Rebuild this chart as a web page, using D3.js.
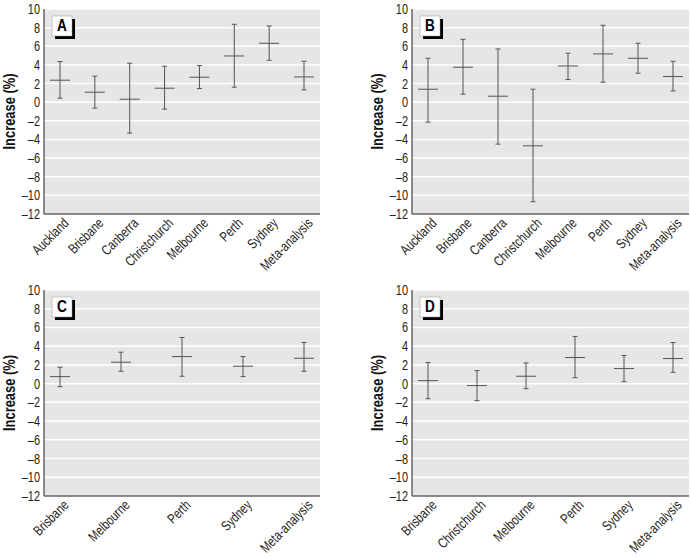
<!DOCTYPE html>
<html>
<head>
<meta charset="utf-8">
<script src="https://cdn.jsdelivr.net/npm/d3@7"></script>
<style>
  body { margin: 0; background: #fff; }
  svg text { font-family: "Liberation Sans", Arial, sans-serif; }
</style>
</head>
<body>
<div id="chart"></div>
<script>
// panel A
const catsA = ["Auckland", "Brisbane", "Canberra", "Christchurch", "Melbourne", "Perth", "Sydney", "Meta-analysis"];
const midA = [2.36, 1.07, 0.32, 1.5, 2.68, 4.96, 6.32, 2.71];
const loA  = [0.43, -0.64, -3.32, -0.75, 1.46, 1.61, 4.5, 1.32];
const hiA  = [4.36, 2.79, 4.18, 3.86, 3.93, 8.36, 8.18, 4.39];

// panel B
const catsB = ["Auckland", "Brisbane", "Canberra", "Christchurch", "Melbourne", "Perth", "Sydney", "Meta-analysis"];
const midB = [1.39, 3.75, 0.64, -4.68, 3.89, 5.18, 4.71, 2.75];
const loB  = [-2.14, 0.86, -4.5, -10.68, 2.43, 2.14, 3.11, 1.21];
const hiB  = [4.71, 6.75, 5.71, 1.39, 5.25, 8.25, 6.32, 4.39];

// panel C
const catsC = ["Brisbane", "Melbourne", "Perth", "Sydney", "Meta-analysis"];
const midC = [0.75, 2.29, 2.89, 1.86, 2.71];
const loC  = [-0.32, 1.32, 0.79, 0.75, 1.32];
const hiC  = [1.75, 3.36, 4.93, 2.89, 4.39];

// panel D
const catsD = ["Brisbane", "Christchurch", "Melbourne", "Perth", "Sydney", "Meta-analysis"];
const midD = [0.32, -0.21, 0.79, 2.79, 1.61, 2.68];
const loD  = [-1.61, -1.82, -0.54, 0.64, 0.21, 1.21];
const hiD  = [2.25, 1.39, 2.21, 5.04, 3.0, 4.39];

const yTicks = d3.range(-12, 11, 2);

let width = 691;
let height = 558;
let narrow = 0.78; // squeeze text horizontally, reference uses a condensed face

let svg = d3.select("#chart").append("svg")
  .attr("width", width)
  .attr("height", height);

let panels = [
  {label: "A", cats: catsA, mid: midA, lo: loA, hi: hiA, left: 44, right: 320, top: 9, bottom: 214},
  {label: "B", cats: catsB, mid: midB, lo: loB, hi: hiB, left: 412, right: 689, top: 9, bottom: 214},
  {label: "C", cats: catsC, mid: midC, lo: loC, hi: hiC, left: 44, right: 320, top: 290, bottom: 496},
  {label: "D", cats: catsD, mid: midD, lo: loD, hi: hiD, left: 412, right: 689, top: 290, bottom: 496}
];

let fmt = (d) => d3.format("d")(d).replace("\u2212", "\u2013");

panels.forEach((p) => {
  let g = svg.append("g");

  let y = d3.scaleLinear().domain([-12, 10]).range([p.bottom, p.top]);
  let x = d3.scalePoint().domain(p.cats).range([p.left + 16, p.right - 16]);

  // grey plot area
  g.append("rect")
    .attr("x", p.left)
    .attr("y", p.top)
    .attr("width", p.right - p.left)
    .attr("height", p.bottom - p.top)
    .attr("fill", "#e6e6e6");

  // white gridlines
  g.selectAll(".grid")
    .data(yTicks.filter((d) => d > -12))
    .enter()
    .append("line")
    .attr("x1", p.left)
    .attr("x2", p.right)
    .attr("y1", (d) => y(d))
    .attr("y2", (d) => y(d))
    .attr("stroke", "#fff")
    .attr("stroke-width", 1.5);

  // y axis labels
  let ya = g.append("g")
    .attr("transform", "translate(" + p.left + ",0)")
    .call(d3.axisLeft(y).tickValues(yTicks).tickSize(0).tickPadding(0).tickFormat(fmt));
  ya.select(".domain").remove();
  ya.selectAll(".tick text")
    .attr("font-size", 14)
    .attr("fill", "#222")
    .style("font-family", "'Liberation Sans', Arial, sans-serif")
    .attr("x", 0)
    .attr("transform", "translate(-4,0) scale(" + narrow + ",1)");

  // x axis labels
  let xa = g.append("g")
    .attr("transform", "translate(0," + p.bottom + ")")
    .call(d3.axisBottom(x).tickSize(0).tickPadding(0));
  xa.select(".domain").remove();
  xa.selectAll("text")
    .attr("font-size", 14)
    .attr("fill", "#222")
    .style("font-family", "'Liberation Sans', Arial, sans-serif")
    .attr("text-anchor", "end")
    .attr("dy", null)
    .attr("y", 0)
    .attr("transform", "translate(9,10) rotate(-45) scale(" + narrow + ",1)");

  // axis lines
  g.append("line")
    .attr("x1", p.left).attr("x2", p.left)
    .attr("y1", p.top).attr("y2", p.bottom)
    .attr("stroke", "#666").attr("stroke-width", 1.5);
  g.append("line")
    .attr("x1", p.left).attr("x2", p.right)
    .attr("y1", p.bottom).attr("y2", p.bottom)
    .attr("stroke", "#666").attr("stroke-width", 1.5);

  // y title
  g.append("text")
    .attr("transform", "translate(" + (p.left - 29) + "," + ((p.top + p.bottom) / 2) + ") rotate(-90) scale(0.76,1)")
    .attr("text-anchor", "middle")
    .attr("font-size", 17)
    .attr("font-weight", "bold")
    .attr("fill", "#111")
    .text("Increase (%)");

  // error bars
  let rows = p.cats.map((c, i) => ({cat: c, mid: p.mid[i], lo: p.lo[i], hi: p.hi[i]}));
  let bars = g.selectAll(".bar")
    .data(rows)
    .enter()
    .append("g")
    .attr("stroke", "#555")
    .attr("stroke-width", 1);

  bars.append("line")
    .attr("x1", (d) => x(d.cat)).attr("x2", (d) => x(d.cat))
    .attr("y1", (d) => y(d.lo)).attr("y2", (d) => y(d.hi));
  bars.append("line")
    .attr("x1", (d) => x(d.cat) - 10).attr("x2", (d) => x(d.cat) + 10)
    .attr("y1", (d) => y(d.mid)).attr("y2", (d) => y(d.mid));
  bars.append("line")
    .attr("x1", (d) => x(d.cat) - 2.5).attr("x2", (d) => x(d.cat) + 2.5)
    .attr("y1", (d) => y(d.hi)).attr("y2", (d) => y(d.hi));
  bars.append("line")
    .attr("x1", (d) => x(d.cat) - 2.5).attr("x2", (d) => x(d.cat) + 2.5)
    .attr("y1", (d) => y(d.lo)).attr("y2", (d) => y(d.lo));

  // panel letter box with shadow
  let bx = p.left + 8, by = p.top + 7;
  g.append("rect")
    .attr("x", bx + 3).attr("y", by + 3)
    .attr("width", 20).attr("height", 20)
    .attr("fill", "#000");
  g.append("rect")
    .attr("x", bx).attr("y", by)
    .attr("width", 20).attr("height", 20)
    .attr("fill", "#fff")
    .attr("stroke", "#999")
    .attr("stroke-width", 0.5);
  g.append("text")
    .attr("x", bx + 10).attr("y", by + 15.5)
    .attr("text-anchor", "middle")
    .attr("font-size", 16)
    .attr("font-weight", "bold")
    .attr("fill", "#000")
    .attr("transform", "translate(" + (bx + 10) * 0.15 + ",0) scale(0.85,1)")
    .text(p.label);
});
</script>
</body>
</html>
